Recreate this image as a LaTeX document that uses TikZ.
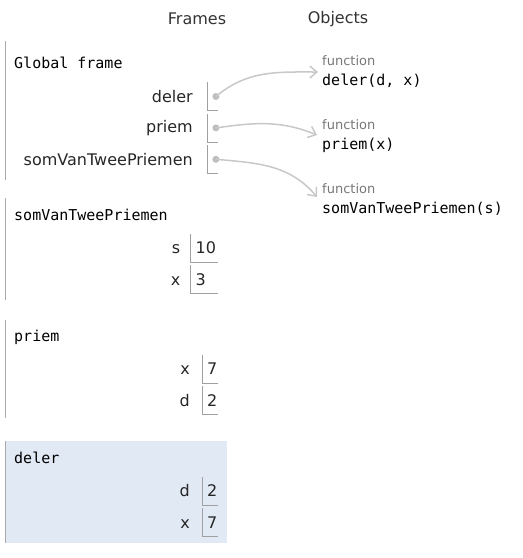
\documentclass[tikz,border=0pt]{standalone}
\usepackage{fontspec}
\setmainfont{DejaVu Sans}
\setmonofont{DejaVu Sans Mono}
\usetikzlibrary{positioning,arrows.meta}

\definecolor{framegray}{HTML}{AAAAAA}
\definecolor{cellgray}{HTML}{A0A0A0}
\definecolor{arrowgray}{HTML}{C8C8C8}
\definecolor{dotgray}{HTML}{BEBEBE}
\definecolor{activeblue}{HTML}{E1E9F5}
\definecolor{headtext}{HTML}{333333}
\definecolor{labeltext}{HTML}{262626}
\definecolor{fntext}{HTML}{777777}

\begin{document}
\begin{tikzpicture}[
        x=1pt, y=1pt,
        header/.style={font=\fontsize{16}{19}\selectfont, text=headtext, inner sep=0pt},
        frametitle/.style={font=\ttfamily\fontsize{15}{18}\selectfont, anchor=west, inner sep=0pt},
        framebar/.style={draw=framegray, line width=1pt},
        varname/.style={font=\fontsize{16}{19}\selectfont, text=labeltext, inner sep=0pt, anchor=base east},
        valcell/.style={font=\fontsize{16}{19}\selectfont, text=labeltext, anchor=west, minimum height=28pt, inner xsep=5pt, inner ysep=0pt, text width=#1, align=left},
        celledge/.style={draw=cellgray, line width=0.8pt},
        ptrdot/.style={circle, fill=dotgray, minimum size=7pt, inner sep=0pt},
        ptrarrow/.style={draw=arrowgray, line width=1.5pt, -{Straight Barb[length=7pt, width=12pt]}},
        fnlabel/.style={font=\fontsize{13}{15}\selectfont, text=fntext, anchor=west, inner sep=0pt},
        fnname/.style={font=\ttfamily\fontsize{15}{18}\selectfont, anchor=west, inner sep=0pt}
    ]
    \useasboundingbox (0,0) rectangle (523,-558);

    % ==========================================
    % HEADERS
    % ==========================================
    \node[header] (hframes) at (197,-19) {Frames};
    \node[header] (hobjects) at (338,-19) {Objects};

    % ==========================================
    % GLOBAL FRAME
    % ==========================================
    \begin{scope}[yshift=-41pt]
        \draw[framebar] (5,0) -- (5,-139);
        \node[frametitle] (gtitle) at (14,-22) {Global frame};

        \node[valcell=1pt] (gdelerv) at (207,-55.5) {};
        \node[valcell=1pt, below=3pt of gdelerv] (gpriemv) {};
        \node[valcell=1pt, below=3pt of gpriemv] (gsomv) {};

        \node[varname, anchor=east, left=14pt of gdelerv] (gdelern) {deler};
        \node[varname, anchor=east, left=14pt of gpriemv] (gpriemn) {priem};
        \node[varname, anchor=east, left=14pt of gsomv] (gsomn) {somVanTweePriemen};

        \node[ptrdot] (gdelerd) at ([xshift=-2.5pt]gdelerv.east) {};
        \node[ptrdot] (gpriemd) at ([xshift=-2.5pt]gpriemv.east) {};
        \node[ptrdot] (gsomd) at ([xshift=-2.5pt]gsomv.east) {};
    \end{scope}

    % ==========================================
    % FRAME: somVanTweePriemen
    % ==========================================
    \begin{scope}[yshift=-198pt]
        \draw[framebar] (5,0) -- (5,-102);
        \node[frametitle] (stitle) at (14,-17) {somVanTweePriemen};

        \node[valcell=17.5pt] (ssv) at (190.5,-50) {10};
        \node[valcell=17.5pt, below=3pt of ssv] (sxv) {3};

        \node[varname] (ssn) at ([xshift=-10pt]ssv.base west) {s};
        \node[varname] (sxn) at ([xshift=-10pt]sxv.base west) {x};
    \end{scope}

    % ==========================================
    % FRAME: priem
    % ==========================================
    \begin{scope}[yshift=-320pt]
        \draw[framebar] (5,0) -- (5,-98);
        \node[frametitle] (ptitle) at (14,-17) {priem};

        \node[valcell=6pt] (pxv) at (202,-49) {7};
        \node[valcell=6pt, below=3pt of pxv] (pdv) {2};

        \node[varname] (pxn) at ([xshift=-12pt]pxv.base west) {x};
        \node[varname] (pdn) at ([xshift=-12pt]pdv.base west) {d};
    \end{scope}

    % ==========================================
    % FRAME: deler (active)
    % ==========================================
    \begin{scope}[yshift=-441pt]
        \fill[activeblue] (5,0) rectangle (227,-102);
        \draw[framebar] (5,0) -- (5,-102);
        \node[frametitle] (dtitle) at (14,-17) {deler};

        \node[valcell=6pt] (ddv) at (202,-50) {2};
        \node[valcell=6pt, below=3pt of ddv] (dxv) {7};

        \node[varname] (ddn) at ([xshift=-12pt]ddv.base west) {d};
        \node[varname] (dxn) at ([xshift=-12pt]dxv.base west) {x};
    \end{scope}

    % value cells: left and bottom edge
    \foreach \c in {gdelerv, gpriemv, gsomv, ssv, sxv, pxv, pdv, ddv, dxv}
        \draw[celledge] (\c.north west) |- (\c.south east);

    % ==========================================
    % OBJECTS
    % ==========================================
    \node[fnlabel] (fdeler) at (322,-61) {function};
    \node[fnname] (odeler) at (322,-81) {deler(d, x)};
    \node[fnlabel] (fpriem) at (322,-125) {function};
    \node[fnname] (opriem) at (322,-145) {priem(x)};
    \node[fnlabel] (fsom) at (322,-189) {function};
    \node[fnname] (osom) at (322,-209) {somVanTweePriemen(s)};

    \coordinate (tdeler) at ([shift={(-4pt,-11pt)}]fdeler.west);
    \coordinate (tpriem) at ([shift={(-5pt,-10pt)}]fpriem.west);
    \coordinate (tsom) at ([shift={(-5pt,-8pt)}]fsom.west);

    % pointers
    \draw[ptrarrow] (gdelerd.center) to[out=40, in=180] (tdeler);
    \draw[ptrarrow] (gpriemd.center) to[out=8, in=158] (tpriem);
    \draw[ptrarrow] (gsomd.center) to[out=-5, in=130] (tsom);

\end{tikzpicture}
\end{document}
